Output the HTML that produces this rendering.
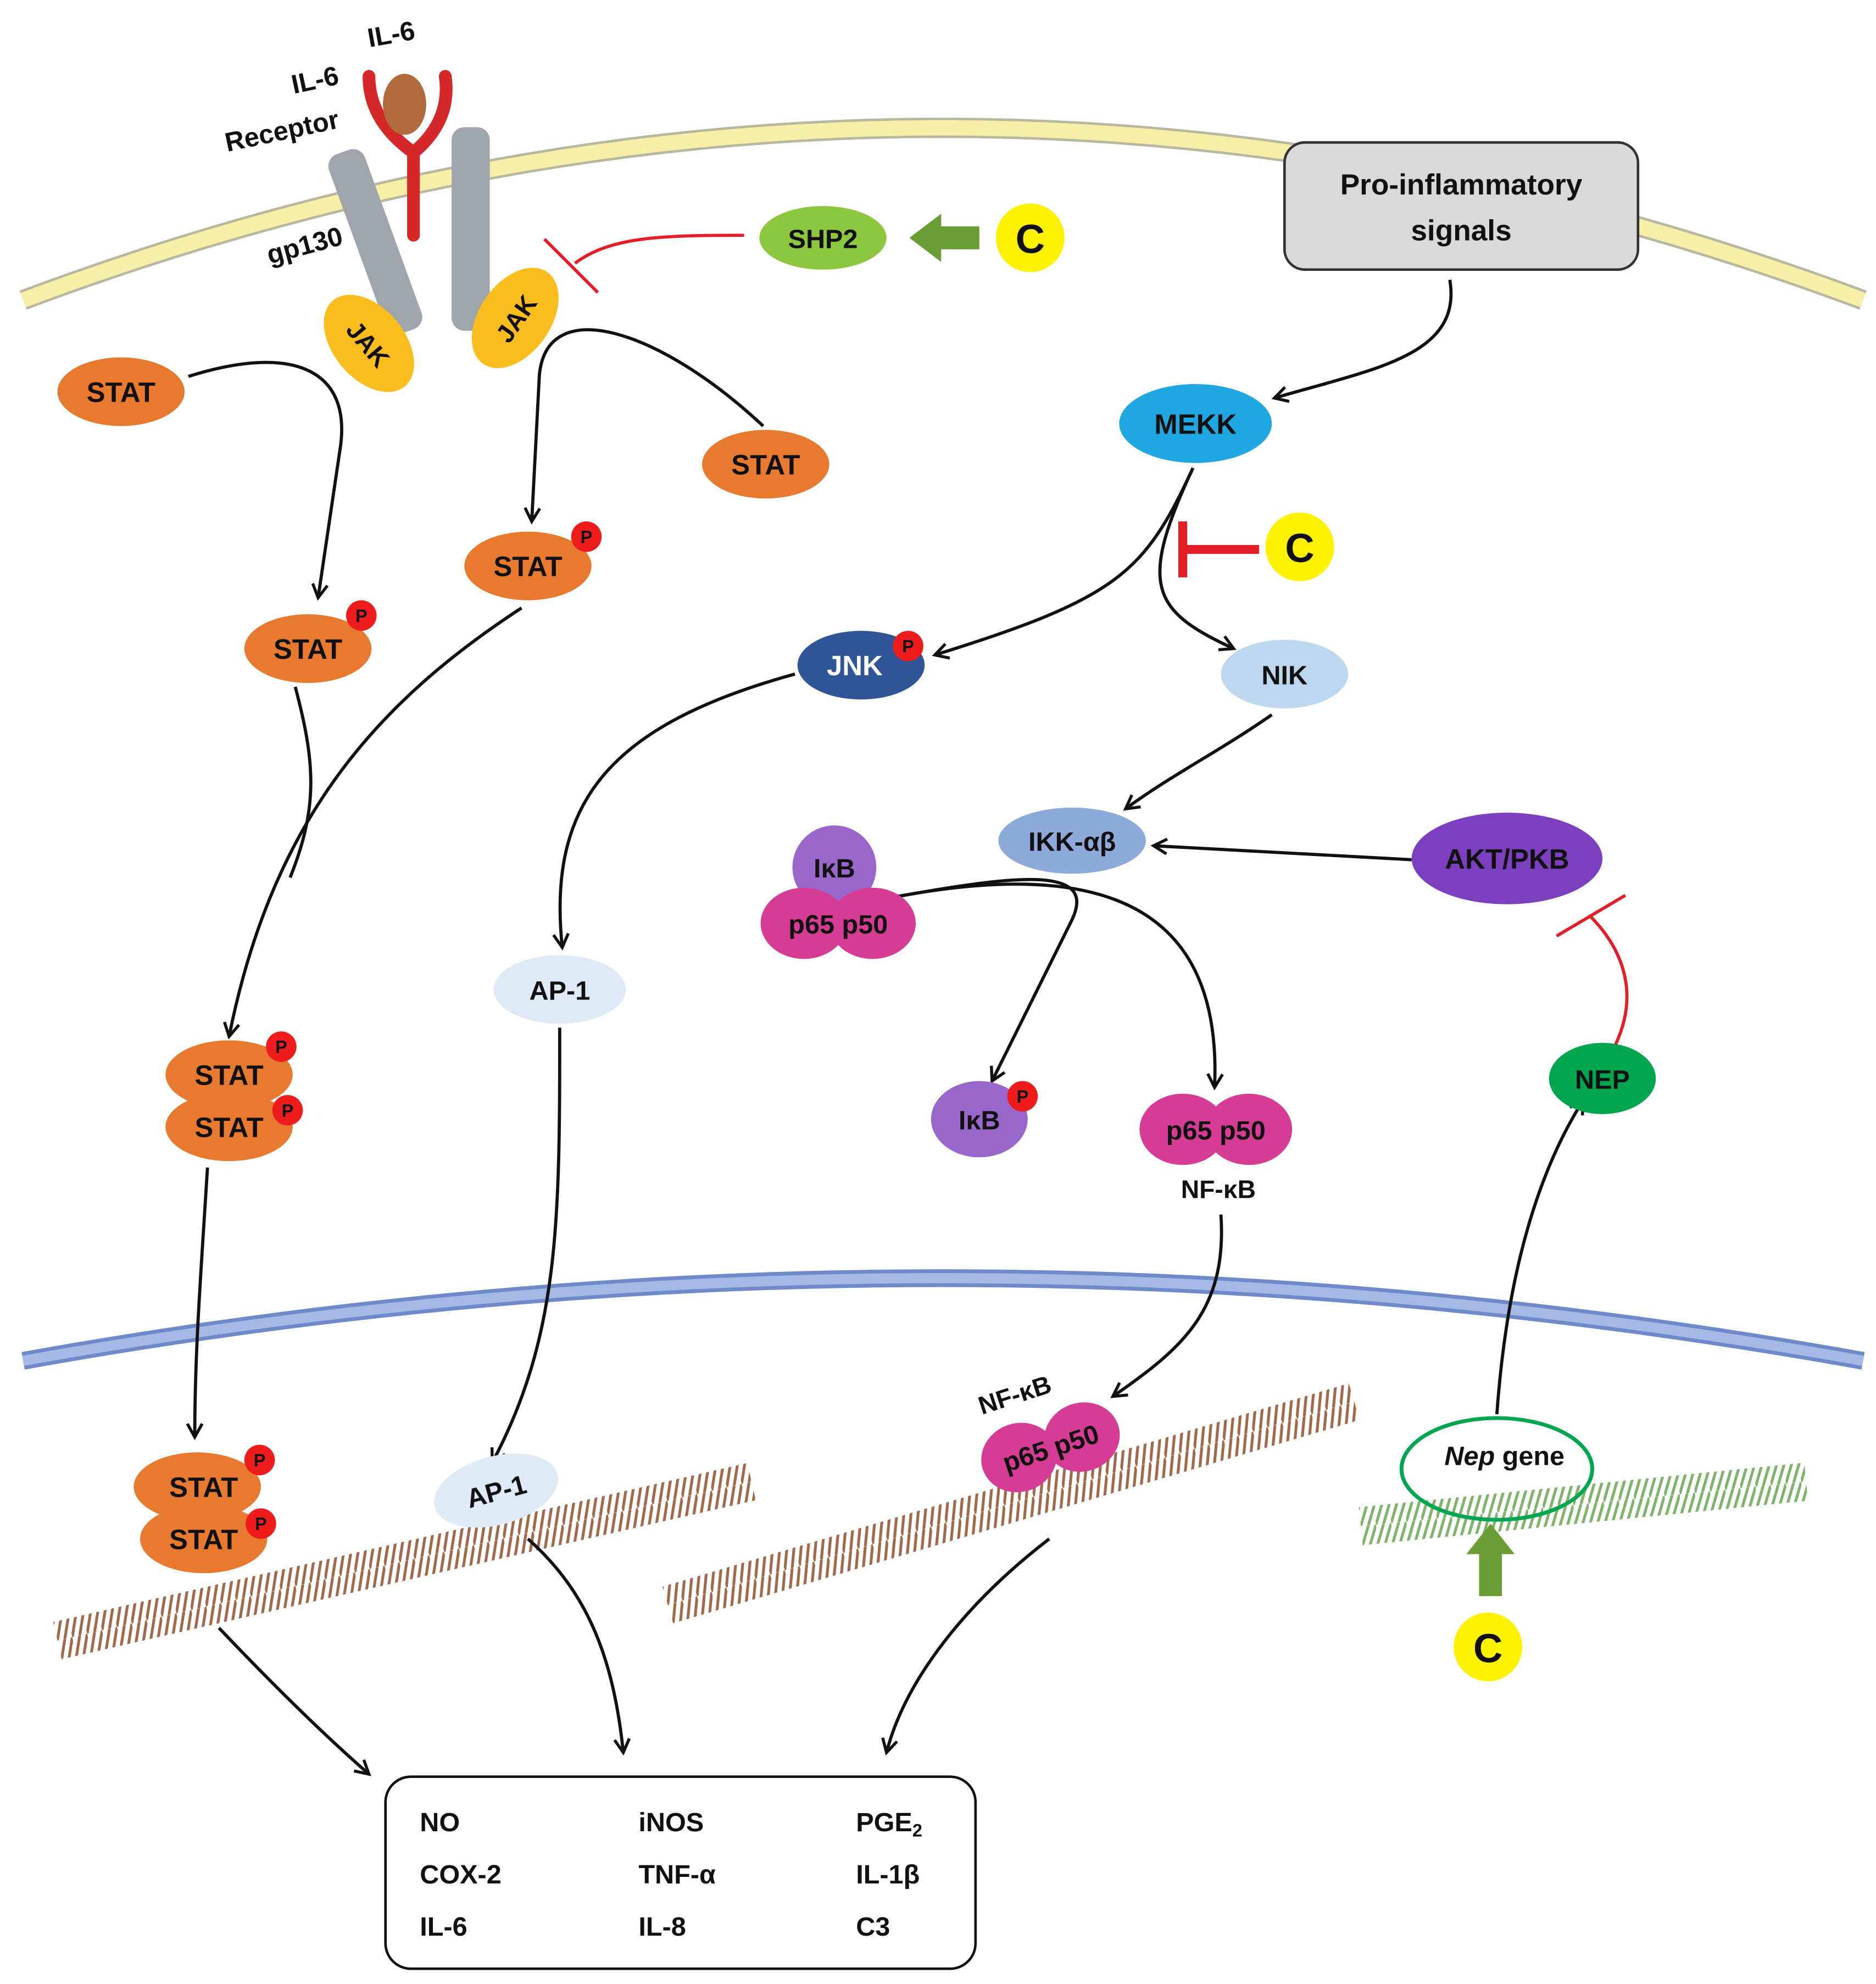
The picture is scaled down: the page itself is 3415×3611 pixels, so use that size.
<!DOCTYPE html>
<html><head><meta charset="utf-8"><style>
html,body{margin:0;padding:0;background:#fff;}
svg{display:block;}
text{font-family:"Liberation Sans",sans-serif;font-weight:bold;fill:#111;}
</style></head><body>
<svg width="3415" height="3611" viewBox="0 0 1475 1560" xmlns="http://www.w3.org/2000/svg">
<defs>
<marker id="ar" viewBox="0 0 12 12" refX="10" refY="6" markerWidth="14" markerHeight="14" orient="auto" markerUnits="userSpaceOnUse">
<path d="M1,1 L10,6 L1,11" fill="none" stroke="#111" stroke-width="2"/></marker>
<pattern id="dnab" width="12" height="30" patternUnits="userSpaceOnUse">
<path d="M0,30 L12,0 M-6,30 L6,0 M6,30 L18,0" stroke="#a0694a" stroke-width="2.2"/></pattern>
<pattern id="dnag" width="12" height="30" patternUnits="userSpaceOnUse">
<path d="M0,30 L12,0 M-6,30 L6,0 M6,30 L18,0" stroke="#7fb36a" stroke-width="2.2"/></pattern>
</defs>
<path d="M18,236 Q740,-35 1465,236" fill="none" stroke="#b8b8a0" stroke-width="16"/>
<path d="M18,236 Q740,-35 1465,236" fill="none" stroke="#f7efa8" stroke-width="12"/>
<path d="M18,1070 Q740,940 1465,1070" fill="none" stroke="#6f8ac8" stroke-width="14"/>
<path d="M18,1070 Q740,940 1465,1070" fill="none" stroke="#a6b9e6" stroke-width="8"/>
<g transform="translate(45,1290) rotate(-12.9)"><rect x="0" y="-15" width="560" height="30" fill="url(#dnab)"/></g>
<g transform="translate(525,1262) rotate(-16.5)"><rect x="0" y="-15" width="563" height="30" fill="url(#dnab)"/></g>
<g transform="translate(1070,1200) rotate(-5.7)"><rect x="0" y="-15" width="352" height="30" fill="url(#dnag)"/></g>
<g transform="rotate(-20 295 190)"><rect x="280" y="115" width="30" height="150" rx="10" fill="#a0a4ab"/></g>
<rect x="355" y="100" width="30" height="160" rx="10" fill="#a0a4ab"/>
<path d="M325,185 L325,120 M325,120 Q290,95 290,60 M325,120 Q355,95 350,60" fill="none" stroke="#d62828" stroke-width="10" stroke-linecap="round"/>
<ellipse cx="318" cy="82" rx="17" ry="24" fill="#b06a3c"/>
<ellipse cx="290" cy="270" rx="28" ry="44" transform="rotate(-40 290 270)" fill="#fbbd1e"/>
<ellipse cx="405" cy="250" rx="28" ry="44" transform="rotate(35 405 250)" fill="#fbbd1e"/>
<text x="290" y="278" font-size="20" text-anchor="middle" transform="rotate(50 290 270)">JAK</text>
<text x="405" y="258" font-size="20" text-anchor="middle" transform="rotate(-55 405 250)">JAK</text>
<text x="308" y="34" font-size="21" text-anchor="middle" transform="rotate(-10 308 30)">IL-6</text>
<text x="248" y="70" font-size="21" text-anchor="middle" transform="rotate(-12 248 65)">IL-6</text>
<text x="222" y="110" font-size="21" text-anchor="middle" transform="rotate(-12 222 105)">Receptor</text>
<text x="240" y="200" font-size="21" text-anchor="middle" transform="rotate(-15 240 195)">gp130</text>
<g fill="none" stroke="#111" stroke-width="2.5">
<path d="M148,296 C230,270 278,290 267,355 L250,470" marker-end="url(#ar)"/>
<path d="M600,335 C520,260 430,230 424,295 L418,410" marker-end="url(#ar)"/>
<path d="M232,540 C248,600 250,635 228,690"/>
<path d="M410,478 C300,550 215,640 180,815" marker-end="url(#ar)"/>
<path d="M163,918 C158,1000 153,1060 153,1130" marker-end="url(#ar)"/>
<path d="M938,368 C900,450 880,470 735,515" marker-end="url(#ar)"/>
<path d="M938,368 C895,460 905,480 970,510" marker-end="url(#ar)"/>
<path d="M1140,220 C1150,280 1080,290 1002,313" marker-end="url(#ar)"/>
<path d="M625,530 C480,570 430,630 442,745" marker-end="url(#ar)"/>
<path d="M440,808 C440,960 440,1050 387,1150" marker-end="url(#ar)"/>
<path d="M1000,562 C960,590 920,610 885,636" marker-end="url(#ar)"/>
<path d="M1110,676 L907,665" marker-end="url(#ar)"/>
<path d="M705,705 C800,688 865,680 842,725 C820,770 800,810 780,850" marker-end="url(#ar)"/>
<path d="M705,705 C850,678 962,700 955,855" marker-end="url(#ar)"/>
<path d="M960,955 C965,1030 930,1060 875,1098" marker-end="url(#ar)"/>
<path d="M1177,1112 C1185,1000 1210,920 1245,865" marker-end="url(#ar)"/>
<path d="M172,1280 C210,1320 250,1360 290,1395" marker-end="url(#ar)"/>
<path d="M415,1210 C460,1250 482,1300 490,1378" marker-end="url(#ar)"/>
<path d="M825,1210 C760,1260 712,1320 697,1378" marker-end="url(#ar)"/>
</g>
<g fill="none" stroke="#e41e26" stroke-width="2.5">
<path d="M585,185 C520,185 480,186 452,207"/><path d="M428,188 L470,230"/>
<path d="M1270,822 C1290,780 1275,745 1250,720"/><path d="M1224,736 L1278,704"/>
</g>
<path d="M990,432 L932,432" stroke="#e41e26" stroke-width="7"/>
<path d="M930,410 L930,454" stroke="#e41e26" stroke-width="7"/>
<ellipse cx="647" cy="187" rx="50" ry="25" fill="#8dc63f"/>
<text x="647" y="195" font-size="21" text-anchor="middle">SHP2</text>
<path d="M770,178 L740,178 L740,168 L715,187 L740,206 L740,196 L770,196 Z" fill="#6a9e35"/>
<circle cx="810" cy="187" r="27" fill="#fff200"/><text x="810" y="199" font-size="32" text-anchor="middle">C</text>
<circle cx="1022" cy="430" r="27" fill="#fff200"/><text x="1022" y="442" font-size="32" text-anchor="middle">C</text>
<circle cx="1170" cy="1295" r="27" fill="#fff200"/><text x="1170" y="1307" font-size="32" text-anchor="middle">C</text>
<path d="M1163,1255 L1163,1222 L1153,1222 L1172,1198 L1191,1222 L1181,1222 L1181,1255 Z" fill="#6a9e35"/>
<rect x="1010" y="112" width="278" height="100" rx="16" fill="#d9d9d9" stroke="#333" stroke-width="2"/>
<text x="1149" y="153" font-size="23" text-anchor="middle">Pro-inflammatory</text>
<text x="1149" y="189" font-size="23" text-anchor="middle">signals</text>
<ellipse cx="95" cy="308" rx="50" ry="27" fill="#e87a2f"/><text x="95" y="316" text-anchor="middle" font-size="22">STAT</text>
<ellipse cx="602" cy="365" rx="50" ry="27" fill="#e87a2f"/><text x="602" y="373" text-anchor="middle" font-size="22">STAT</text>
<ellipse cx="415" cy="445" rx="50" ry="27" fill="#e87a2f"/><text x="415" y="453" text-anchor="middle" font-size="22">STAT</text>
<ellipse cx="242" cy="510" rx="50" ry="27" fill="#e87a2f"/><text x="242" y="518" text-anchor="middle" font-size="22">STAT</text>
<ellipse cx="180" cy="886" rx="50" ry="27" fill="#e87a2f"/>
<ellipse cx="180" cy="845" rx="50" ry="27" fill="#e87a2f"/>
<text x="180" y="853" text-anchor="middle" font-size="22">STAT</text><text x="180" y="894" text-anchor="middle" font-size="22">STAT</text>
<ellipse cx="160" cy="1210" rx="50" ry="27" fill="#e87a2f"/>
<ellipse cx="155" cy="1169" rx="50" ry="27" fill="#e87a2f"/>
<text x="160" y="1177" text-anchor="middle" font-size="22">STAT</text><text x="160" y="1218" text-anchor="middle" font-size="22">STAT</text>
<ellipse cx="940" cy="333" rx="60" ry="31" fill="#1ea7e1"/><text x="940" y="341" font-size="22" text-anchor="middle">MEKK</text>
<ellipse cx="677" cy="523" rx="50" ry="27" fill="#2f5597"/><text x="672" y="531" font-size="22" text-anchor="middle" style="fill:#fff">JNK</text>
<ellipse cx="1010" cy="530" rx="50" ry="27" fill="#bdd7ee"/><text x="1010" y="538" font-size="21" text-anchor="middle">NIK</text>
<ellipse cx="843" cy="661" rx="58" ry="26" fill="#8eaadb"/><text x="843" y="669" font-size="21" text-anchor="middle">IKK-αβ</text>
<ellipse cx="1185" cy="675" rx="75" ry="36" fill="#7b3fbf"/><text x="1185" y="683" font-size="22" text-anchor="middle">AKT/PKB</text>
<ellipse cx="1260" cy="848" rx="42" ry="28" fill="#00a550"/><text x="1260" y="856" font-size="21" text-anchor="middle">NEP</text>
<ellipse cx="440" cy="778" rx="52" ry="27" fill="#deeaf6"/><text x="440" y="786" font-size="21" text-anchor="middle">AP-1</text>
<g transform="rotate(-15 390 1172)"><ellipse cx="390" cy="1172" rx="50" ry="27" fill="#deeaf6"/><text x="390" y="1180" font-size="21" text-anchor="middle">AP-1</text></g>
<circle cx="656" cy="682" r="33" fill="#9966cc"/>
<ellipse cx="632" cy="726" rx="34" ry="28" fill="#d63c93"/><ellipse cx="686" cy="726" rx="34" ry="28" fill="#d63c93"/>
<text x="656" y="690" font-size="21" text-anchor="middle">IκB</text>
<text x="659" y="734" font-size="21" text-anchor="middle">p65 p50</text>
<ellipse cx="770" cy="880" rx="38" ry="30" fill="#9966cc"/><text x="770" y="888" font-size="21" text-anchor="middle">IκB</text>
<ellipse cx="930" cy="888" rx="34" ry="28" fill="#d63c93"/><ellipse cx="982" cy="888" rx="34" ry="28" fill="#d63c93"/>
<text x="956" y="896" font-size="21" text-anchor="middle">p65 p50</text>
<text x="958" y="942" font-size="20" text-anchor="middle">NF-κB</text>
<g transform="rotate(-18 826 1138)">
<ellipse cx="800" cy="1138" rx="30" ry="27" fill="#d63c93"/><ellipse cx="852" cy="1138" rx="30" ry="27" fill="#d63c93"/>
<text x="826" y="1146" font-size="21" text-anchor="middle">p65 p50</text>
<text x="812" y="1097" font-size="20" text-anchor="middle">NF-κB</text></g>
<g fill="#ee1c1c">
<circle cx="461" cy="422" r="12"/><circle cx="284" cy="484" r="12"/><circle cx="221" cy="823" r="12"/><circle cx="226" cy="873" r="12"/>
<circle cx="204" cy="1148" r="12"/><circle cx="205" cy="1198" r="12"/><circle cx="714" cy="508" r="12"/><circle cx="804" cy="862" r="12"/>
</g>
<g font-size="14" text-anchor="middle">
<text x="461" y="427">P</text><text x="284" y="489">P</text><text x="221" y="828">P</text><text x="226" y="878">P</text>
<text x="204" y="1153">P</text><text x="205" y="1203">P</text><text x="714" y="513">P</text><text x="804" y="867">P</text>
</g>
<ellipse cx="1177" cy="1155" rx="75" ry="40" fill="none" stroke="#00a550" stroke-width="3"/>
<text x="1183" y="1152" font-size="21" text-anchor="middle"><tspan font-style="italic">Nep</tspan> gene</text>
<rect x="303" y="1397" width="464" height="151" rx="20" fill="#fff" stroke="#111" stroke-width="2"/>
<g font-size="21">
<text x="330" y="1440">NO</text><text x="502" y="1440">iNOS</text><text x="673" y="1440">PGE<tspan font-size="14" dy="4">2</tspan></text>
<text x="330" y="1481">COX-2</text><text x="502" y="1481">TNF-α</text><text x="673" y="1481">IL-1β</text>
<text x="330" y="1522">IL-6</text><text x="502" y="1522">IL-8</text><text x="673" y="1522">C3</text>
</g>
</svg>
</body></html>
